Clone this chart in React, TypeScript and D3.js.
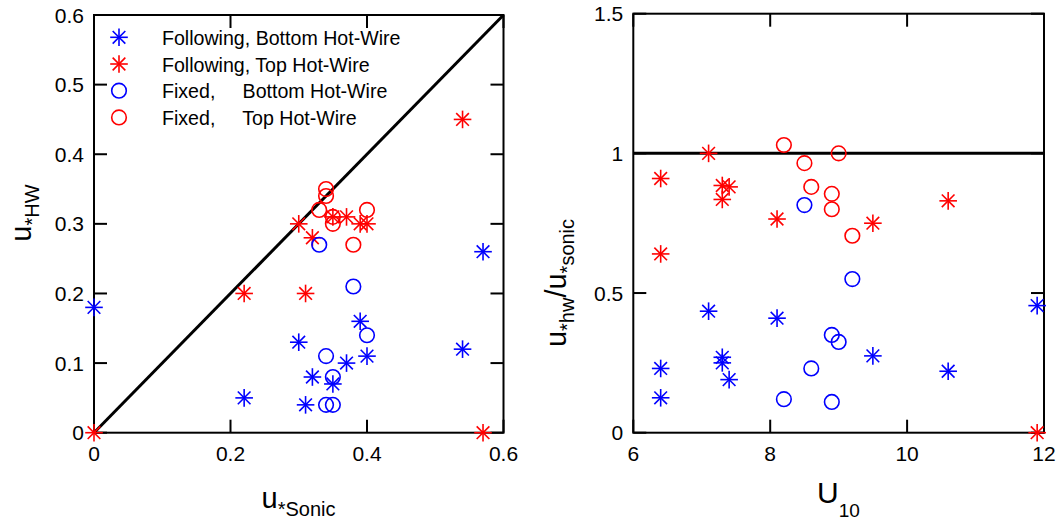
import React from 'react';
import * as d3 from 'd3';

// ---- left panel: u*HW vs u*Sonic ----
const followBottom: [number, number][] = [
  [0, 0.18], [0.57, 0.26], [0.39, 0.16], [0.30, 0.13], [0.54, 0.12], [0.40, 0.11],
  [0.37, 0.10], [0.32, 0.08], [0.35, 0.07], [0.22, 0.05], [0.31, 0.04],
];
const followTop: [number, number][] = [
  [0, 0], [0.57, 0], [0.54, 0.45], [0.22, 0.20], [0.31, 0.20], [0.30, 0.30],
  [0.32, 0.28], [0.35, 0.31], [0.37, 0.31], [0.39, 0.30], [0.40, 0.30],
];
const fixedBottom: [number, number][] = [
  [0.33, 0.27], [0.38, 0.21], [0.40, 0.14], [0.34, 0.11], [0.35, 0.08], [0.34, 0.04], [0.35, 0.04],
];
const fixedTop: [number, number][] = [
  [0.34, 0.35], [0.34, 0.34], [0.33, 0.32], [0.40, 0.32], [0.35, 0.31], [0.35, 0.30], [0.38, 0.27],
];

// ---- right panel: ratio vs U10 ----
const ratioFollowBottom: [number, number][] = [
  [6.4, 0.23], [6.4, 0.125], [7.1, 0.435], [8.1, 0.41], [7.3, 0.27], [7.3, 0.25],
  [7.4, 0.19], [9.5, 0.275], [10.6, 0.22], [11.9, 0.455],
];
const ratioFollowTop: [number, number][] = [
  [6.4, 0.91], [6.4, 0.64], [7.1, 1.0], [7.3, 0.885], [7.4, 0.88], [7.3, 0.835],
  [8.1, 0.765], [9.5, 0.75], [10.6, 0.83], [11.9, 0],
];
const ratioFixedBottom: [number, number][] = [
  [8.5, 0.815], [9.2, 0.55], [8.9, 0.35], [9.0, 0.325], [8.6, 0.23], [8.2, 0.12], [8.9, 0.11],
];
const ratioFixedTop: [number, number][] = [
  [8.2, 1.03], [8.5, 0.965], [9.0, 1.0], [8.6, 0.88], [8.9, 0.855], [8.9, 0.80], [9.2, 0.705],
];

const leftXTicks = [0, 0.2, 0.4, 0.6];
const leftYTicks = [0, 0.1, 0.2, 0.3, 0.4, 0.5, 0.6];
const rightXTicks = [6, 8, 10, 12];
const rightYTicks = [0, 0.5, 1, 1.5];

const legendItems = [
  { label: 'Following, Bottom Hot-Wire', color: '#0000ff', marker: 'star' },
  { label: 'Following, Top Hot-Wire', color: '#ff0000', marker: 'star' },
  { label: 'Fixed,     Bottom Hot-Wire', color: '#0000ff', marker: 'circle' },
  { label: 'Fixed,     Top Hot-Wire', color: '#ff0000', marker: 'circle' },
];

const FONT = '"Liberation Sans", Arial, Helvetica, sans-serif';
const TICK = 13;

const Star = ({ x, y, color }: { x: number; y: number; color: string }) => {
  const r = 8.8;
  const d = r * 0.72;
  return (
    <g stroke={color} strokeWidth={1.6}>
      <line x1={x - r} y1={y} x2={x + r} y2={y} />
      <line x1={x} y1={y - r} x2={x} y2={y + r} />
      <line x1={x - d} y1={y - d} x2={x + d} y2={y + d} />
      <line x1={x - d} y1={y + d} x2={x + d} y2={y - d} />
    </g>
  );
};

const Circle = ({ x, y, color }: { x: number; y: number; color: string }) => (
  <circle cx={x} cy={y} r={7.3} fill="none" stroke={color} strokeWidth={1.6} />
);

const fmt = (v: number) => (v === 0 ? '0' : String(v));

function Frame({ x, y, xTicks, yTicks }: any) {
  const [x0, x1] = x.range();
  const [y0, y1] = y.range();
  return (
    <g>
      <rect x={x0} y={y1} width={x1 - x0} height={y0 - y1} fill="none" stroke="#000" strokeWidth={2} />
      {xTicks.map((t: number) => (
        <g key={'x' + t}>
          <line x1={x(t)} x2={x(t)} y1={y0} y2={y0 - TICK} stroke="#000" strokeWidth={2} />
          <line x1={x(t)} x2={x(t)} y1={y1} y2={y1 + TICK} stroke="#000" strokeWidth={2} />
          <text x={x(t)} y={461} textAnchor="middle" fontSize={21}>{fmt(t)}</text>
        </g>
      ))}
      {yTicks.map((t: number) => (
        <g key={'y' + t}>
          <line x1={x0} x2={x0 + TICK} y1={y(t)} y2={y(t)} stroke="#000" strokeWidth={2} />
          <line x1={x1} x2={x1 - TICK} y1={y(t)} y2={y(t)} stroke="#000" strokeWidth={2} />
          <text x={x0 - 10} y={y(t) + 7.5} textAnchor="end" fontSize={21}>{fmt(t)}</text>
        </g>
      ))}
    </g>
  );
}

export default function App() {
  const xL = d3.scaleLinear().domain([0, 0.6]).range([94, 503.5]);
  const yL = d3.scaleLinear().domain([0, 0.6]).range([432.7, 15]);
  const xR = d3.scaleLinear().domain([6, 12]).range([633.3, 1044]);
  const yR = d3.scaleLinear().domain([0, 1.5]).range([432.7, 13.7]);

  const diag = d3.line<number>().x((d) => xL(d)).y((d) => yL(d))([0, 0.6]) || '';

  const stars = (pts: [number, number][], xs: any, ys: any, color: string, k: string) =>
    pts.map((p, i) => <Star key={k + i} x={xs(p[0])} y={ys(p[1])} color={color} />);
  const circles = (pts: [number, number][], xs: any, ys: any, color: string, k: string) =>
    pts.map((p, i) => <Circle key={k + i} x={xs(p[0])} y={ys(p[1])} color={color} />);

  return (
    <svg width={1060} height={520} style={{ position: 'absolute', left: 0, top: 0, background: '#fff' }}
      fontFamily={FONT}>
      <rect width={1060} height={520} fill="#fff" />

      {/* left panel */}
      <Frame x={xL} y={yL} xTicks={leftXTicks} yTicks={leftYTicks} />
      <path d={diag} stroke="#000" strokeWidth={3} fill="none" />
      {stars(followBottom, xL, yL, '#0000ff', 'fb')}
      {stars(followTop, xL, yL, '#ff0000', 'ft')}
      {circles(fixedBottom, xL, yL, '#0000ff', 'xb')}
      {circles(fixedTop, xL, yL, '#ff0000', 'xt')}

      {legendItems.map((it, i) => {
        const ly = 37.3 + i * 26.7;
        return (
          <g key={it.label}>
            {it.marker === 'star'
              ? <Star x={119} y={ly} color={it.color} />
              : <Circle x={119} y={ly} color={it.color} />}
            <text x={162} y={ly + 7.5} fontSize={19.6} xmlSpace="preserve" style={{ whiteSpace: 'pre' }}>{it.label}</text>
          </g>
        );
      })}

      <text x={298.5} y={508} textAnchor="middle">
        <tspan fontSize={29}>u</tspan>
        <tspan fontSize={20} dy={8}>*Sonic</tspan>
      </text>
      <text transform="translate(31,213) rotate(-90)" textAnchor="middle">
        <tspan fontSize={29}>u</tspan>
        <tspan fontSize={20} dy={8}>*HW</tspan>
      </text>

      {/* right panel */}
      <Frame x={xR} y={yR} xTicks={rightXTicks} yTicks={rightYTicks} />
      <line x1={xR(6)} x2={xR(12)} y1={yR(1)} y2={yR(1)} stroke="#000" strokeWidth={3} />
      {stars(ratioFollowBottom, xR, yR, '#0000ff', 'rfb')}
      {stars(ratioFollowTop, xR, yR, '#ff0000', 'rft')}
      {circles(ratioFixedBottom, xR, yR, '#0000ff', 'rxb')}
      {circles(ratioFixedTop, xR, yR, '#ff0000', 'rxt')}

      <text x={838.5} y={503} textAnchor="middle">
        <tspan fontSize={30}>U</tspan>
        <tspan fontSize={19} dy={14}>10</tspan>
      </text>
      <text transform="translate(566,283) rotate(-90)" textAnchor="middle">
        <tspan fontSize={29}>u</tspan>
        <tspan fontSize={20} dy={8}>*hw</tspan>
        <tspan fontSize={29} dy={-8}>/u</tspan>
        <tspan fontSize={20} dy={8}>*sonic</tspan>
      </text>
    </svg>
  );
}
